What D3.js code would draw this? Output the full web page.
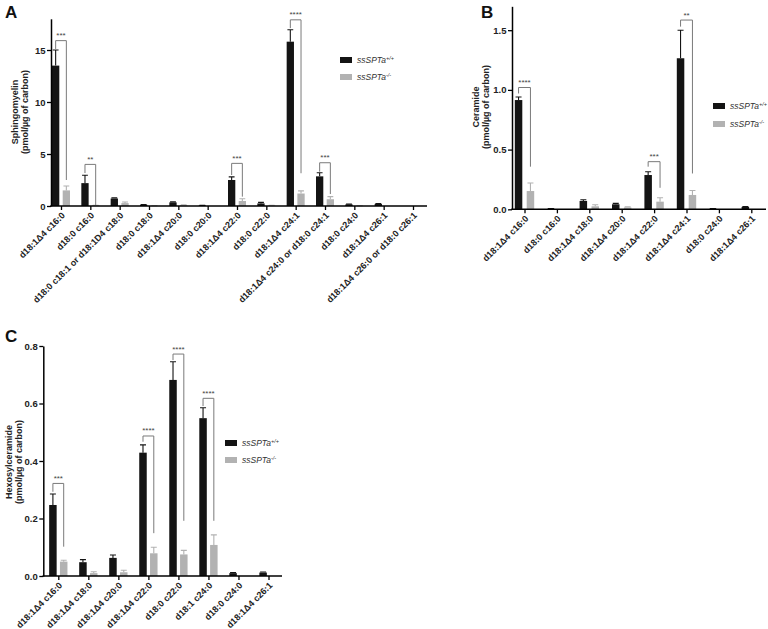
<!DOCTYPE html>
<html><head><meta charset="utf-8">
<script src="https://cdn.jsdelivr.net/npm/d3@7"></script>
<style>
body{margin:0;background:#fff;}
svg{display:block;font-family:"Liberation Sans",Arial,sans-serif;}
</style></head>
<body>
<svg id="c" width="768" height="629"></svg>
<script>
// ---------- DATA ----------
const seriesNames = ["ssSPTa", "ssSPTa"];
const seriesSup = ["+/+", "-/-"];

// Panel A: Sphingomyelin
const catsA = ["d18:1Δ4 c16:0","d18:0 c16:0","d18:0 c18:1 or d18:1D4 c18:0","d18:0 c18:0","d18:1Δ4 c20:0","d18:0 c20:0","d18:1Δ4 c22:0","d18:0 c22:0","d18:1Δ4 c24:1","d18:1Δ4 c24:0 or d18:0 c24:1","d18:0 c24:0","d18:1Δ4 c26:1","d18:1Δ4 c26:0 or d18:0 c26:1"];
const wtA    = [13.5, 2.2, 0.72, 0.12, 0.35, 0.05, 2.5, 0.25, 15.8, 2.85, 0.15, 0.2, 0];
const wtErrA = [1.5, 0.75, 0.06, 0.02, 0.05, 0.01, 0.3, 0.1, 1.15, 0.35, 0.03, 0.03, 0];
const koA    = [1.5, 0.05, 0.28, 0.02, 0.08, 0, 0.48, 0.05, 1.2, 0.65, 0.02, 0, 0];
const koErrA = [0.42, 0.02, 0.1, 0.01, 0.03, 0, 0.22, 0.02, 0.25, 0.25, 0.01, 0, 0];
const yTicksA = [0, 5, 10, 15];
const brCatA   = [0, 1, 6, 8, 9];
const brStarA  = ["***","**","***","****","***"];
const brTopA   = [15.9, 4.0, 4.1, 17.9, 4.16];
const brLeftA  = [15.1, 3.17, 2.98, 17.1, 3.3];
const brRightA = [2.5, 0.1, 0.9, 3.15, 1.15];

// Panel B: Ceramide
const catsB = ["d18:1Δ4 c16:0","d18:0 c16:0","d18:1Δ4 c18:0","d18:1Δ4 c20:0","d18:1Δ4 c22:0","d18:1Δ4 c24:1","d18:0 c24:0","d18:1Δ4 c26:1"];
const wtB    = [0.915, 0.005, 0.07, 0.042, 0.287, 1.265, 0.005, 0.02];
const wtErrB = [0.025, 0.002, 0.01, 0.008, 0.028, 0.235, 0.002, 0.004];
const koB    = [0.153, 0, 0.025, 0.015, 0.064, 0.12, 0, 0];
const koErrB = [0.067, 0, 0.013, 0.005, 0.033, 0.038, 0, 0];
const yTicksB = [0, 0.5, 1.0, 1.5];
const brCatB   = [0, 4, 5];
const brStarB  = ["****","***","**"];
const brTopB   = [1.02, 0.399, 1.585];
const brLeftB  = [0.97, 0.357, 1.53];
const brRightB = [0.357, 0.18, 0.30];

// Panel C: Hexosylceramide
const catsC = ["d18:1Δ4 c16:0","d18:1Δ4 c18:0","d18:1Δ4 c20:0","d18:1Δ4 c22:0","d18:0 c22:0","d18:1 c24:0","d18:0 c24:0","d18:1Δ4 c26:1"];
const wtC    = [0.247, 0.048, 0.063, 0.429, 0.682, 0.549, 0.01, 0.012];
const wtErrC = [0.038, 0.009, 0.01, 0.027, 0.063, 0.036, 0.002, 0.002];
const koC    = [0.05, 0.01, 0.013, 0.079, 0.075, 0.108, 0, 0];
const koErrC = [0.005, 0.005, 0.007, 0.021, 0.014, 0.035, 0, 0];
const yTicksC = [0, 0.2, 0.4, 0.6, 0.8];
const brCatC   = [0, 3, 4, 5];
const brStarC  = ["***","****","****","****"];
const brTopC   = [0.322, 0.487, 0.772, 0.618];
const brLeftC  = [0.293, 0.467, 0.751, 0.591];
const brRightC = [0.102, 0.149, 0.192, 0.192];

// ---------- DRAW ----------
const svg = d3.select("#c");
const BLACK = "#141414", GREY = "#b2b2b2", FONT = "'Liberation Sans', Arial, sans-serif";

function panel(o) {
  const g = svg.append("g");
  const y = d3.scaleLinear().domain([0, o.ymax]).range([o.y0, o.y0 - o.ppu * o.ymax]);
  const x = d3.scalePoint().domain(o.cats).range([o.x0 + o.padL, o.x1 - o.padR]);
  const bw = o.bw, gap = o.gap;
  const bx = (i, s) => s === 0 ? x(o.cats[i]) - gap / 2 - bw : x(o.cats[i]) + gap / 2;

  // bars
  [[o.wt, o.wtErr, BLACK], [o.ko, o.koErr, GREY]].forEach(([vals, errs, col], s) => {
    g.selectAll(null).data(vals).enter().append("rect")
      .attr("x", (d, i) => bx(i, s)).attr("width", bw)
      .attr("y", d => y(d)).attr("height", d => o.y0 - y(d))
      .attr("fill", col);
    const eg = g.selectAll(null).data(vals).enter().filter((d, i) => errs[i] > 0);
    g.selectAll(null).data(vals.map((d, i) => [d, errs[i], i]).filter(e => e[1] > 0)).enter()
      .append("path")
      .attr("d", e => {
        const cx = bx(e[2], s) + bw / 2, yt = y(e[0] + e[1]), yb = y(e[0]);
        return `M${cx},${yb}V${yt}M${cx - bw * 0.4},${yt}H${cx + bw * 0.4}`;
      })
      .attr("stroke", col).attr("stroke-width", 1.1).attr("fill", "none");
  });

  // brackets
  o.brCat.forEach((ci, k) => {
    const lx = bx(ci, 0) + bw / 2, rx = bx(ci, 1) + bw / 2;
    const yt = y(o.brTop[k]);
    g.append("path")
      .attr("d", `M${lx},${y(o.brLeft[k])}V${yt}H${rx}V${y(o.brRight[k])}`)
      .attr("stroke", "#7a7a7a").attr("stroke-width", 1).attr("fill", "none");
    g.append("text").attr("x", (lx + rx) / 2).attr("y", yt - 2.5)
      .attr("text-anchor", "middle").attr("font-size", 8).attr("fill", "#444")
      .text(o.brStar[k]);
  });

  // y axis
  const ya = g.append("g").attr("transform", `translate(${o.x0},0)`)
    .call(d3.axisLeft(y).tickValues(o.yTicks).tickSize(4).tickSizeOuter(0).tickFormat(o.fmt));
  ya.select(".domain").attr("stroke", "#000").attr("stroke-width", 1.5);
  ya.selectAll(".tick line").attr("stroke", "#000").attr("stroke-width", 1.3);
  ya.selectAll(".tick text").attr("font-family", FONT).attr("font-size", 9.5)
    .attr("font-weight", "bold").attr("fill", "#222").attr("x", -5.5);

  // x axis
  const xa = g.append("g").attr("transform", `translate(0,${o.y0})`)
    .call(d3.axisBottom(x).tickSize(4).tickSizeOuter(0));
  xa.select(".domain").remove();
  g.append("line").attr("x1", o.x0 - 0.75).attr("x2", o.x1).attr("y1", o.y0).attr("y2", o.y0)
    .attr("stroke", "#000").attr("stroke-width", 1.5);
  xa.selectAll(".tick line").attr("stroke", "#000").attr("stroke-width", 1.3);
  xa.selectAll(".tick text").attr("font-family", FONT).attr("font-size", 9)
    .attr("font-weight", "bold").attr("fill", "#222")
    .attr("text-anchor", "end").attr("y", 0).attr("dy", 0)
    .attr("transform", "translate(4,10) rotate(-45)");

  // y title
  const t = g.append("text").attr("font-family", FONT).attr("font-size", 9)
    .attr("font-weight", "bold").attr("fill", "#222").attr("text-anchor", "middle")
    .attr("transform", `translate(${o.titleX},${o.titleY}) rotate(-90)`);
  t.append("tspan").attr("x", 0).attr("y", 0).text(o.title);
  t.append("tspan").attr("x", 0).attr("y", 10).text("(pmol/µg of carbon)");

  // panel letter
  svg.append("text").attr("x", o.letterX).attr("y", o.letterY).attr("font-family", FONT)
    .attr("font-size", 17).attr("font-weight", "bold").attr("fill", "#111").text(o.letter);

  // legend
  [BLACK, GREY].forEach((col, s) => {
    const ly = o.legY + s * o.legDy;
    svg.append("rect").attr("x", o.legX).attr("y", ly - 6).attr("width", 12).attr("height", 6).attr("fill", col);
    const tx = svg.append("text").attr("x", o.legX + 17).attr("y", ly).attr("font-family", FONT)
      .attr("font-size", 8.5).attr("font-style", "italic").attr("fill", "#333");
    tx.append("tspan").text(seriesNames[s]);
    tx.append("tspan").attr("font-size", 5.5).attr("dy", -3.5).text(seriesSup[s]);
  });
}

panel({cats: catsA, wt: wtA, wtErr: wtErrA, ko: koA, koErr: koErrA, yTicks: yTicksA,
  brCat: brCatA, brStar: brStarA, brTop: brTopA, brLeft: brLeftA, brRight: brRightA,
  ymax: 18, x0: 51, x1: 427, padL: 10, padR: 14, y0: 206, ppu: 10.4, bw: 7.3, gap: 3.4,
  fmt: d3.format("d"), title: "Sphingomyelin", titleX: 18, titleY: 112,
  letter: "A", letterX: 5, letterY: 18, legX: 340, legY: 63, legDy: 17});

panel({cats: catsB, wt: wtB, wtErr: wtErrB, ko: koB, koErr: koErrB, yTicks: yTicksB,
  brCat: brCatB, brStar: brStarB, brTop: brTopB, brLeft: brLeftB, brRight: brRightB,
  ymax: 1.7, x0: 512, x1: 766, padL: 12.5, padR: 14.7, y0: 209.3, ppu: 119.4, bw: 7.5, gap: 4.4,
  fmt: d3.format(".1f"), title: "Ceramide", titleX: 479, titleY: 107,
  letter: "B", letterX: 481, letterY: 18, legX: 713, legY: 109, legDy: 18});

panel({cats: catsC, wt: wtC, wtErr: wtErrC, ko: koC, koErr: koErrC, yTicks: yTicksC,
  brCat: brCatC, brStar: brStarC, brTop: brTopC, brLeft: brLeftC, brRight: brRightC,
  ymax: 0.8, x0: 43.3, x1: 282, padL: 15, padR: 13.5, y0: 576, ppu: 287.5, bw: 7.5, gap: 3.3,
  fmt: d3.format(".1f"), title: "Hexosylceramide", titleX: 12, titleY: 462,
  letter: "C", letterX: 5, letterY: 342, legX: 225, legY: 446, legDy: 17});
</script>
</body></html>
